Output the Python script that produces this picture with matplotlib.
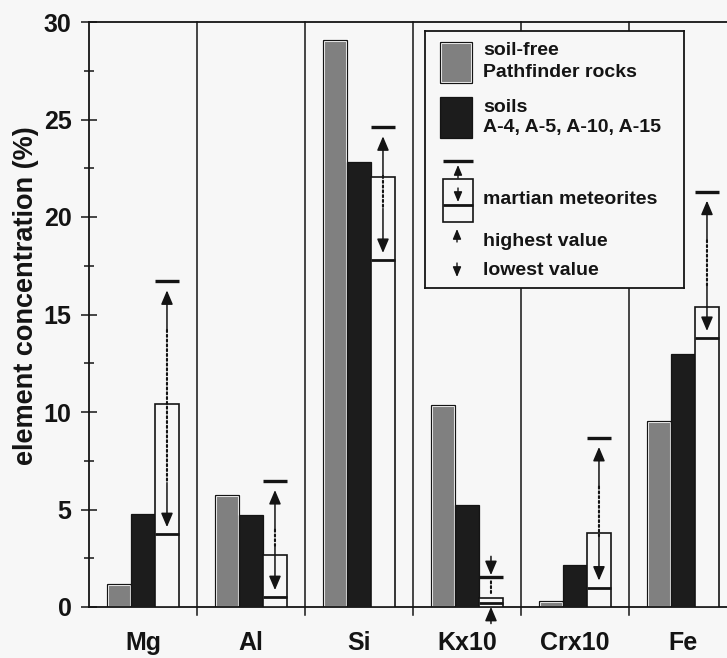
import matplotlib
matplotlib.use('Agg')
import matplotlib.pyplot as plt
import numpy as np
from matplotlib.patches import Rectangle
from matplotlib.ticker import MultipleLocator

# ---------------- data ----------------
categories = ['Mg', 'Al', 'Si', 'Kx10', 'Crx10', 'Fe']
rocks = [1.2, 5.75, 29.1, 10.35, 0.3, 9.55]      # soil-free Pathfinder rocks
soils = [4.77, 4.72, 22.8, 5.23, 2.15, 13.0]     # soils A-4, A-5, A-10, A-15
met_box = [10.4, 2.67, 22.05, 0.45, 3.8, 15.4]   # martian meteorites (box top)
met_low = [3.74, 0.51, 17.8, 0.22, 1.0, 13.8]    # lowest value
met_high = [16.7, 6.46, 24.6, 1.53, 8.67, 21.3]  # highest value
yticks = [0, 5, 10, 15, 20, 25, 30]

plt.rcParams['font.family'] = ['Liberation Sans', 'DejaVu Sans']
plt.rcParams['font.weight'] = 'bold'

BG = '#f7f7f7'
INK = '#141414'
GRAY = '#808080'
W, H = 727, 658
fig = plt.figure(figsize=(W / 100, H / 100), dpi=100, facecolor=BG)
ax = fig.add_axes([89 / W, (H - 607) / H, 648 / W, 585 / H], facecolor=BG)

x = np.arange(len(categories))
w = 0.222
ax.set_xlim(-0.5, 5.5)
ax.set_ylim(0, 30)

# bars
ax.bar(x - w, rocks, w, color=GRAY, edgecolor='white', linewidth=2.2, zorder=2)
ax.bar(x - w, rocks, w, facecolor='none', edgecolor=INK, linewidth=0.9, zorder=3)
ax.bar(x, soils, w, color='#1c1c1c', edgecolor=INK, linewidth=0.9, zorder=4)
ax.bar(x + w, met_box, w, facecolor=BG, edgecolor=INK, linewidth=1.2, zorder=4)
ax.hlines(met_low, x + w / 2, x + 1.5 * w, color=INK, linewidth=2.0, zorder=5)
ax.hlines(met_high, x + w / 2, x + 1.5 * w, color=INK, linewidth=2.4, zorder=5)

arrow_kw = dict(arrowstyle='-|>,head_length=0.85,head_width=0.36', color=INK,
                lw=1.1, mutation_scale=10)
for xi, b, lo, hi in zip(x + w, met_box, met_low, met_high):
    span = (ax.transData.transform((0, hi))[1] - ax.transData.transform((0, lo))[1]) * 0.72
    if span > 60:
        ax.annotate('', xy=(xi, hi), xytext=(0, -35), textcoords='offset points',
                    arrowprops=dict(shrinkA=0, shrinkB=6.5, **arrow_kw), zorder=6)
        ax.annotate('', xy=(xi, lo), xytext=(0, 37), textcoords='offset points',
                    arrowprops=dict(shrinkA=0, shrinkB=5, **arrow_kw), zorder=6)
        ax.annotate('', xy=(xi, lo), xytext=(xi, hi),
                    arrowprops=dict(arrowstyle='-', color=INK, lw=1.5,
                                    linestyle=(0, (1.0, 1.3)), shrinkA=35, shrinkB=37),
                    zorder=6)
    else:
        ax.annotate('', xy=(xi, hi), xytext=(0, 15), textcoords='offset points',
                    arrowprops=dict(shrinkA=0, shrinkB=1.5, **arrow_kw), zorder=6,
                    annotation_clip=False)
        ax.annotate('', xy=(xi, lo), xytext=(0, -15), textcoords='offset points',
                    arrowprops=dict(shrinkA=0, shrinkB=3, **arrow_kw), zorder=6,
                    annotation_clip=False)
        ax.annotate('', xy=(xi, b), xytext=(xi, hi),
                    arrowprops=dict(arrowstyle='-', color=INK, lw=1.5,
                                    linestyle=(0, (1.0, 1.3)), shrinkA=3, shrinkB=2),
                    zorder=6)

# group separators
for bnd in x[:-1] + 0.5:
    ax.axvline(bnd, ymin=-0.014, ymax=1, color=INK, lw=1.1, clip_on=False, zorder=1)

# spines & ticks
for s in ['left', 'top', 'bottom']:
    ax.spines[s].set_linewidth(1.3)
    ax.spines[s].set_color(INK)
ax.spines['right'].set_visible(False)
ax.set_yticks(yticks)
ax.yaxis.set_minor_locator(MultipleLocator(2.5))
ax.tick_params(axis='y', which='major', direction='inout', length=11, width=1.1,
               labelsize=18, pad=7, colors=INK)
ax.tick_params(axis='y', which='minor', direction='inout', length=6.5, width=1.1, colors=INK)
ax.set_xticks(x, categories)
ax.tick_params(axis='x', length=0, labelsize=18, pad=17, colors=INK)
fig.text(26 / W, 1 - 296 / H, 'element concentration (%)', rotation=90,
         ha='center', va='center', fontsize=19.5, color=INK)

# ---------------- legend ----------------
lax = fig.add_axes([425 / W, 1 - 288 / H, 259 / W, 257 / H], facecolor=BG, zorder=10)
lax.set_xlim(0, 259)
lax.set_ylim(257, 0)
lax.set_xticks([])
lax.set_yticks([])
for s in lax.spines.values():
    s.set_linewidth(1.3)
    s.set_color(INK)

lax.add_patch(Rectangle((15, 11), 32, 41, facecolor=GRAY, edgecolor='white', lw=2.2))
lax.add_patch(Rectangle((15, 11), 32, 41, facecolor='none', edgecolor=INK, lw=0.9))
lax.add_patch(Rectangle((15, 66), 32, 41, facecolor='#1c1c1c', edgecolor=INK, lw=0.9))
lax.add_patch(Rectangle((18, 148), 30, 43, facecolor=BG, edgecolor=INK, lw=1.2))
lax.hlines(130, 18, 48, color=INK, lw=2.4)
lax.hlines(174, 18, 48, color=INK, lw=2.0)
small = dict(arrowstyle='-|>,head_length=0.6,head_width=0.25', color=INK, lw=1.0,
             mutation_scale=10, shrinkA=0, shrinkB=0)
lax.annotate('', xy=(33, 134), xytext=(33, 147), arrowprops=small)
lax.annotate('', xy=(33, 171), xytext=(33, 157), arrowprops=small)
lax.annotate('', xy=(32, 198), xytext=(32, 211), arrowprops=small)
lax.annotate('', xy=(32, 246), xytext=(32, 232), arrowprops=small)

txt = dict(fontsize=14, color=INK, ha='left', va='baseline')
lax.text(58, 24, 'soil-free', **txt)
lax.text(58, 46, 'Pathfinder rocks', **txt)
lax.text(58, 81, 'soils', **txt)
lax.text(58, 101, 'A-4, A-5, A-10, A-15', **txt)
lax.text(58, 173, 'martian meteorites', **txt)
lax.text(58, 215, 'highest value', **txt)
lax.text(58, 244, 'lowest value', **txt)

fig.savefig('out.png', dpi=100, facecolor=BG)
